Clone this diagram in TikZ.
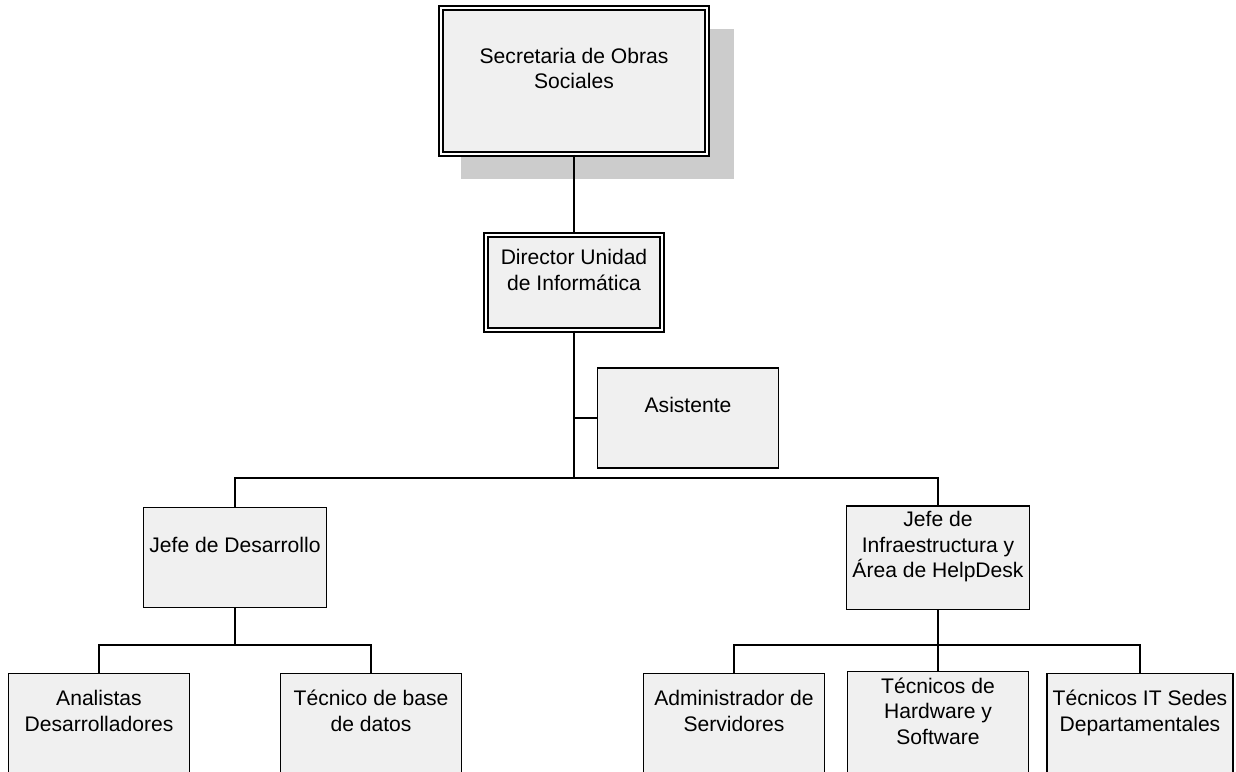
\documentclass[tikz,border=0pt]{standalone}
\usepackage{fontspec}
\setmainfont{Liberation Sans}
\usepackage{tikz}
\usetikzlibrary{shadows}

\definecolor{boxgray}{HTML}{F0F0F0}
\definecolor{shadegray}{HTML}{CCCCCC}

\begin{document}
\begin{tikzpicture}[x=0.02cm, y=-0.02cm, line width=0.8pt,
    unit/.style={rectangle, draw, fill=boxgray, align=center,
        minimum width=3.61cm, minimum height=2cm,
        font=\fontsize{12}{14.5}\selectfont},
    head/.style={unit, double=white, double distance=1.5pt, line width=0.9pt,
        minimum width=3.52cm, minimum height=1.9cm}]

            \useasboundingbox (0, 0) rectangle (1236, 771);

            %top of the chart
            \node[head, minimum width=5.32cm, minimum height=2.92cm,
                drop shadow={shadow xshift=0.45cm, shadow yshift=-0.45cm, shadow scale=1.026, fill=shadegray, opacity=1}]
                (sec) at (574, 81) {Secretaria de Obras\\Sociales\\[0pt]};
            \node[head] (dir) at (574, 282.5) {Director Unidad\\de Informática\\[0pt]};
            \node[unit] (asis) at (688, 418) {Asistente\\[0pt]};

            %jefes
            \node[unit] (jdes) at (235, 557.5) {Jefe de Desarrollo\\[0pt]};
            \node[unit] (jinf) at (938, 557.5) {Jefe de\\Infraestructura y\\Área de HelpDesk\\[0pt]};

            %bottom row
            \node[unit] (ana) at (99, 723.5) {Analistas\\Desarrolladores\\[0pt]};
            \node[unit] (tbd) at (371, 723.5) {Técnico de base\\de datos\\[0pt]};
            \node[unit] (adm) at (734, 723.5) {Administrador de\\Servidores\\[0pt]};
            \node[unit] (thw) at (938, 723.5) {Técnicos de\\Hardware y\\Software\\[0pt]};
            \node[unit] (tit) at (1140, 723.5) {Técnicos IT Sedes\\Departamentales\\[0pt]};

            %bus points
            \coordinate (bus0) at (574, 478);
            \coordinate (bus1) at (235, 645);
            \coordinate (bus2) at (938, 645);

            %connections
            \draw (sec) -- (dir);
            \draw (dir.south) -- (bus0);
            \draw (dir.south) |- (asis.west);
            \draw (jdes.north) |- (bus0) -| (jinf.north);

            \draw (jdes.south) -- (bus1);
            \foreach \lo in {ana, tbd}{
                \draw (\lo.north) |- (bus1);
            };

            \draw (jinf.south) -- (bus2);
            \foreach \lo in {adm, thw, tit}{
                \draw (\lo.north) |- (bus2);
            };
        \end{tikzpicture}
\end{document}
